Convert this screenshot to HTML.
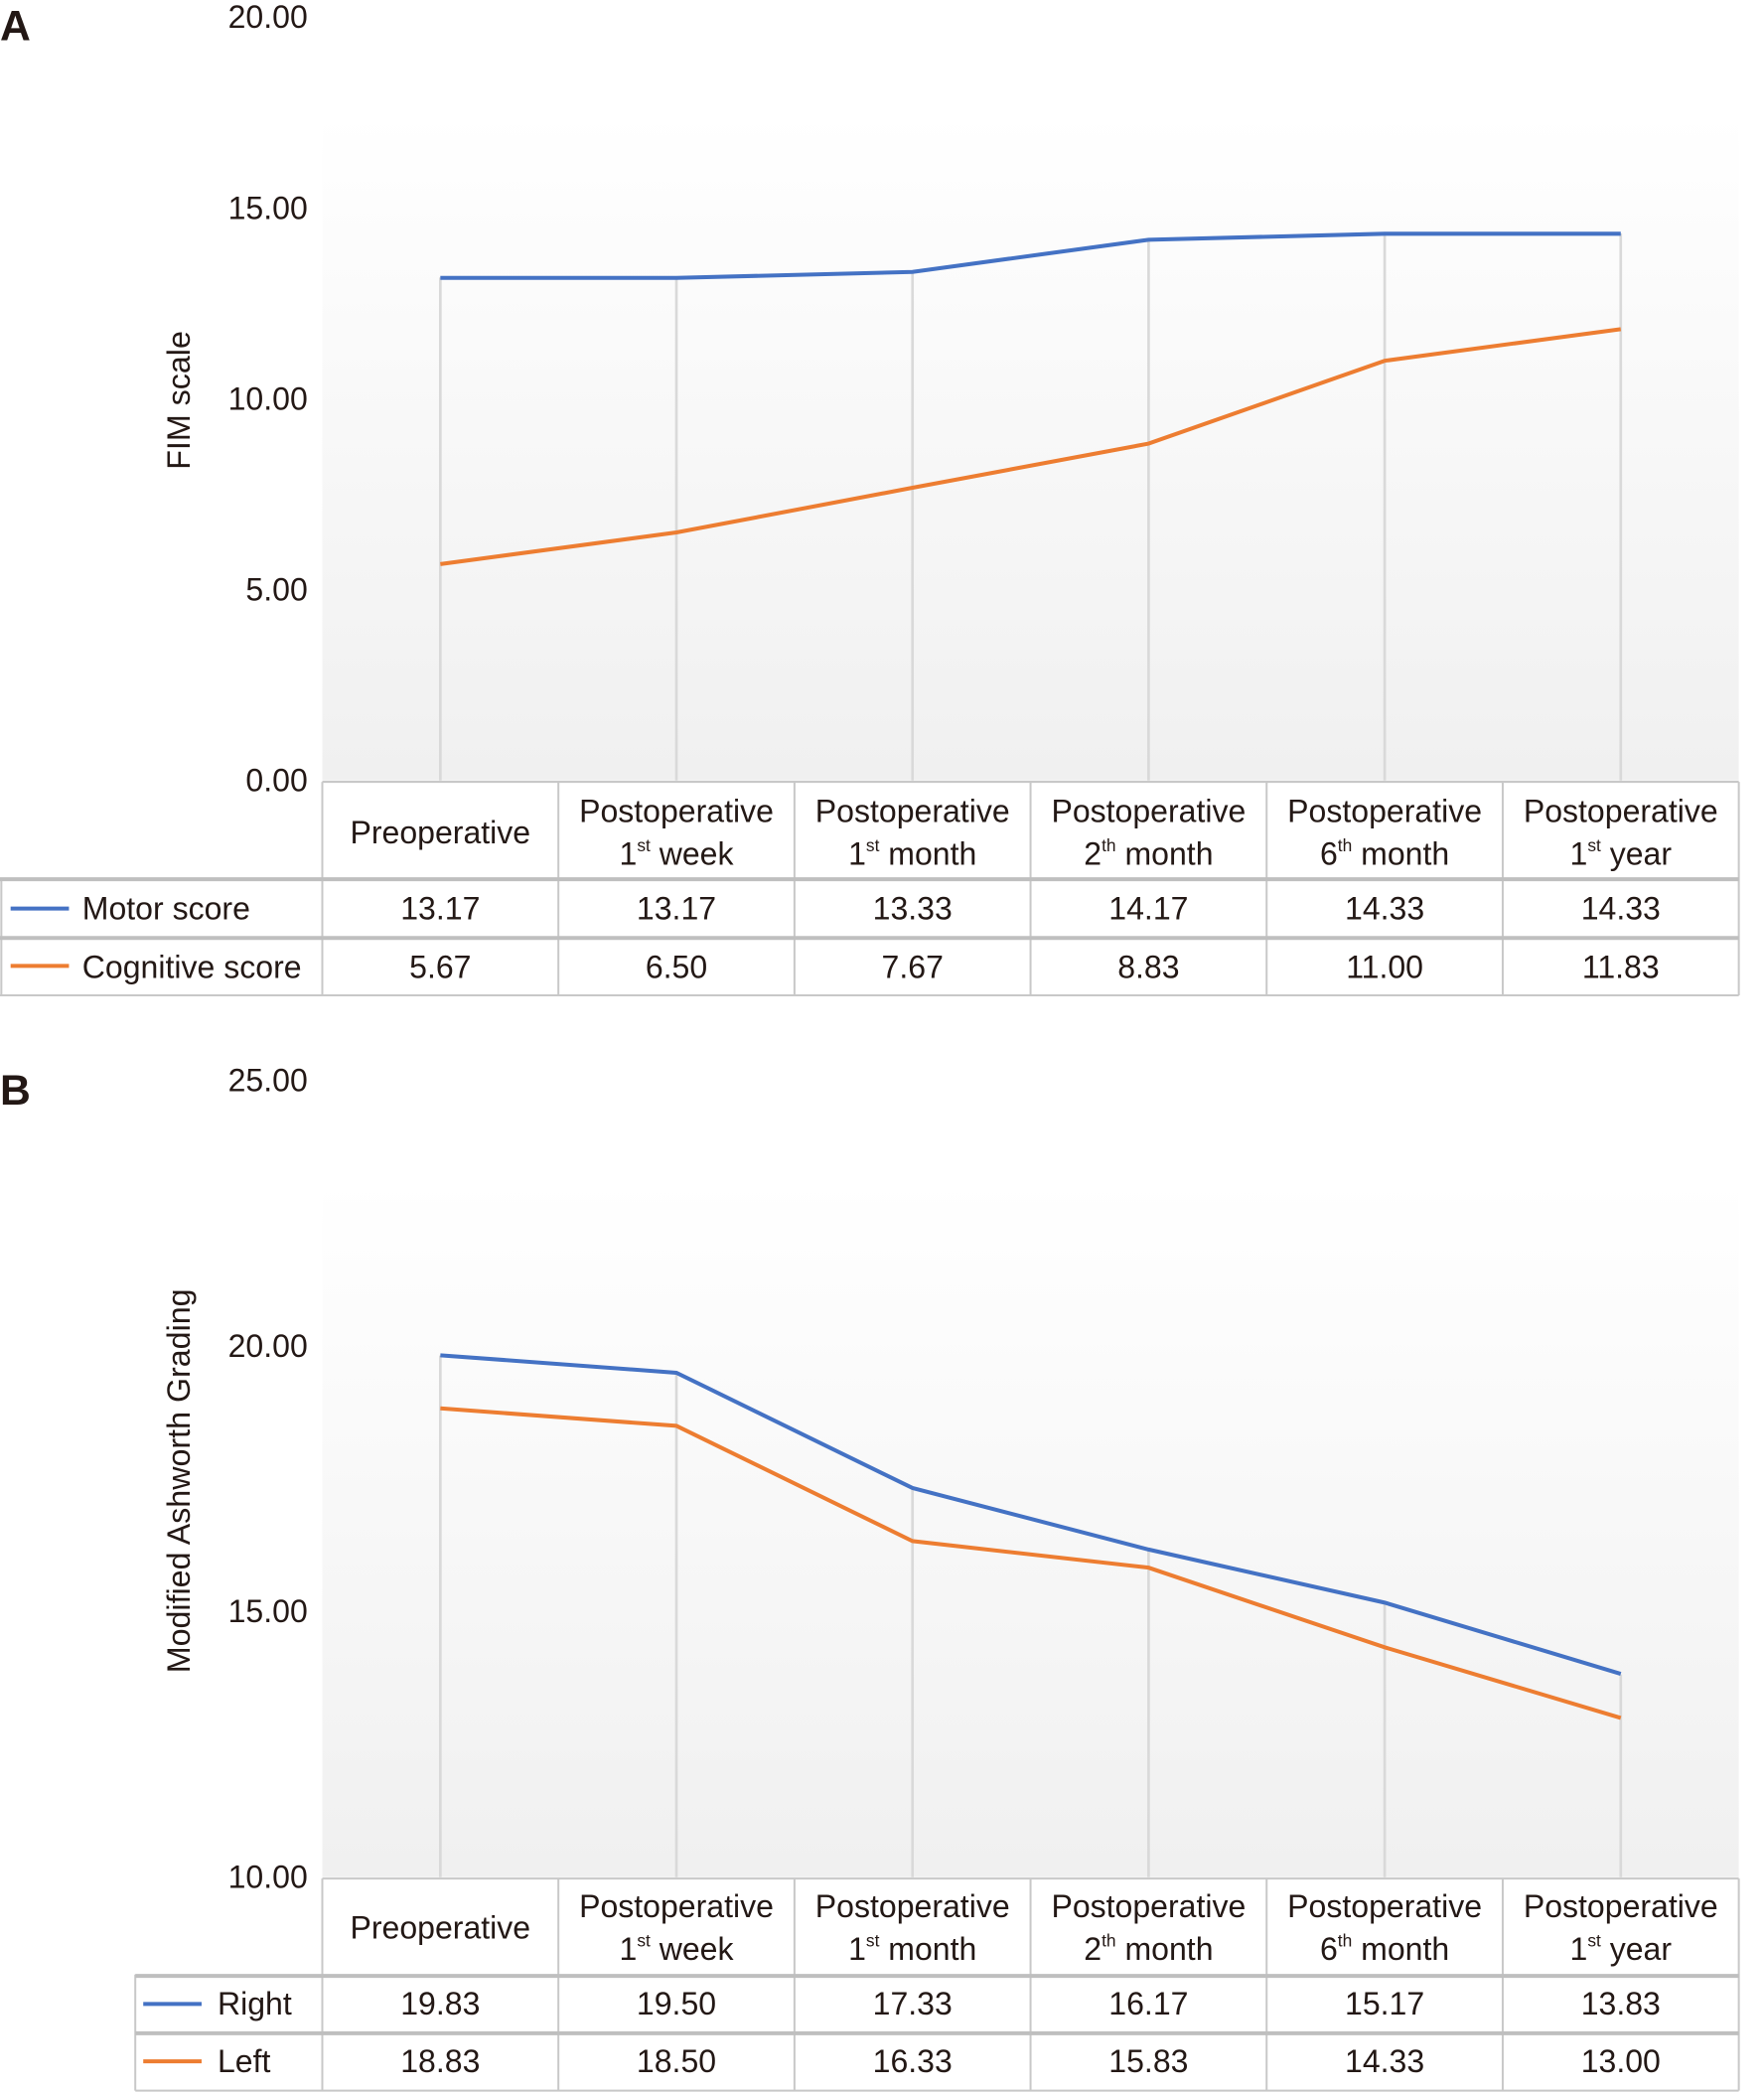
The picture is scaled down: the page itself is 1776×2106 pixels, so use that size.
<!DOCTYPE html>
<html><head><meta charset="utf-8"><style>
html,body{margin:0;padding:0;background:#fff}
svg{display:block}
text{font-family:"Liberation Sans","DejaVu Sans",sans-serif;fill:#231815}
</style></head><body>
<svg width="1776" height="2106" viewBox="0 0 1330 1568" preserveAspectRatio="none" xmlns="http://www.w3.org/2000/svg">
<defs>
<linearGradient id="g" x1="0" y1="0" x2="0" y2="1">
<stop offset="0" stop-color="#ffffff"/><stop offset="1" stop-color="#f0f0f0"/>
</linearGradient>
</defs>
<!-- ===== Chart A ===== -->
<text x="0" y="30" font-size="32" font-weight="bold">A</text>
<rect x="243" y="85" width="1068" height="500" fill="url(#g)"/>
<g font-size="24" text-anchor="end">
<text x="232" y="21">20.00</text><text x="232" y="164">15.00</text><text x="232" y="307">10.00</text><text x="232" y="450">5.00</text><text x="232" y="593">0.00</text>
</g>
<text transform="translate(143,300) rotate(-90)" font-size="24" text-anchor="middle">FIM scale</text>
<g stroke="#d9d9d9" stroke-width="2">
<line x1="332" y1="208" x2="332" y2="585"/><line x1="510" y1="208" x2="510" y2="585"/><line x1="688" y1="204" x2="688" y2="585"/><line x1="866" y1="180" x2="866" y2="585"/><line x1="1044" y1="175" x2="1044" y2="585"/><line x1="1222" y1="175" x2="1222" y2="585"/>
</g>
<polyline fill="none" stroke="#4472c4" stroke-width="3" points="332,208.3 510,208.3 688,203.8 866,179.7 1044,175.2 1222,175.2"/>
<polyline fill="none" stroke="#ed7d31" stroke-width="3" points="332,422.8 510,399.1 688,365.6 866,332.5 1044,270.4 1222,246.7"/>
<!-- table A -->
<g stroke="#c8c8c8" stroke-width="1.5" fill="none">
<line x1="243" y1="586" x2="1311" y2="586"/>
<line x1="0" y1="746" x2="1311" y2="746"/>
<line x1="1" y1="658" x2="1" y2="746"/>
<line x1="243" y1="586" x2="243" y2="746"/><line x1="421" y1="586" x2="421" y2="746"/><line x1="599" y1="586" x2="599" y2="746"/><line x1="777" y1="586" x2="777" y2="746"/><line x1="955" y1="586" x2="955" y2="746"/><line x1="1133" y1="586" x2="1133" y2="746"/><line x1="1311" y1="586" x2="1311" y2="746"/>
</g>
<g stroke="#bfbfbf" stroke-width="3"><line x1="0" y1="659" x2="1311" y2="659"/><line x1="0" y1="703" x2="1311" y2="703"/></g>
<line x1="8" y1="681" x2="52" y2="681" stroke="#4472c4" stroke-width="3"/>
<line x1="8" y1="724" x2="52" y2="724" stroke="#ed7d31" stroke-width="3"/>
<g font-size="24">
<text x="62" y="689">Motor score</text><text x="62" y="733">Cognitive score</text>
</g>
<g font-size="24" text-anchor="middle">
<text x="332" y="632">Preoperative</text>
<text x="510" y="616">Postoperative</text><text x="510" y="648">1<tspan font-size="13" dy="-10">st</tspan><tspan dy="10"> week</tspan></text>
<text x="688" y="616">Postoperative</text><text x="688" y="648">1<tspan font-size="13" dy="-10">st</tspan><tspan dy="10"> month</tspan></text>
<text x="866" y="616">Postoperative</text><text x="866" y="648">2<tspan font-size="13" dy="-10">th</tspan><tspan dy="10"> month</tspan></text>
<text x="1044" y="616">Postoperative</text><text x="1044" y="648">6<tspan font-size="13" dy="-10">th</tspan><tspan dy="10"> month</tspan></text>
<text x="1222" y="616">Postoperative</text><text x="1222" y="648">1<tspan font-size="13" dy="-10">st</tspan><tspan dy="10"> year</tspan></text>
<text x="332" y="689">13.17</text><text x="510" y="689">13.17</text><text x="688" y="689">13.33</text><text x="866" y="689">14.17</text><text x="1044" y="689">14.33</text><text x="1222" y="689">14.33</text>
<text x="332" y="733">5.67</text><text x="510" y="733">6.50</text><text x="688" y="733">7.67</text><text x="866" y="733">8.83</text><text x="1044" y="733">11.00</text><text x="1222" y="733">11.83</text>
</g>
<!-- ===== Chart B ===== -->
<text x="0" y="828" font-size="32" font-weight="bold">B</text>
<rect x="243" y="885" width="1068" height="522" fill="url(#g)"/>
<g font-size="24" text-anchor="end">
<text x="232" y="818">25.00</text><text x="232" y="1017">20.00</text><text x="232" y="1216">15.00</text><text x="232" y="1415">10.00</text>
</g>
<text transform="translate(143,1110) rotate(-90)" font-size="24" text-anchor="middle">Modified Ashworth Grading</text>
<g stroke="#d9d9d9" stroke-width="2">
<line x1="332" y1="1016" x2="332" y2="1407"/><line x1="510" y1="1029" x2="510" y2="1407"/><line x1="688" y1="1115" x2="688" y2="1407"/><line x1="866" y1="1161" x2="866" y2="1407"/><line x1="1044" y1="1201" x2="1044" y2="1407"/><line x1="1222" y1="1255" x2="1222" y2="1407"/>
</g>
<polyline fill="none" stroke="#4472c4" stroke-width="3" points="332,1015.8 510,1028.9 688,1115.3 866,1161.4 1044,1201.2 1222,1254.6"/>
<polyline fill="none" stroke="#ed7d31" stroke-width="3" points="332,1055.6 510,1068.7 688,1155.1 866,1175 1044,1234.7 1222,1287.6"/>
<g stroke="#c8c8c8" stroke-width="1.5" fill="none">
<line x1="243" y1="1408" x2="1311" y2="1408"/>
<line x1="102" y1="1567" x2="1311" y2="1567"/>
<line x1="102" y1="1480" x2="102" y2="1567"/>
<line x1="243" y1="1408" x2="243" y2="1567"/><line x1="421" y1="1408" x2="421" y2="1567"/><line x1="599" y1="1408" x2="599" y2="1567"/><line x1="777" y1="1408" x2="777" y2="1567"/><line x1="955" y1="1408" x2="955" y2="1567"/><line x1="1133" y1="1408" x2="1133" y2="1567"/><line x1="1311" y1="1408" x2="1311" y2="1567"/>
</g>
<g stroke="#bfbfbf" stroke-width="3"><line x1="102" y1="1481" x2="1311" y2="1481"/><line x1="102" y1="1524" x2="1311" y2="1524"/></g>
<line x1="108" y1="1502" x2="152" y2="1502" stroke="#4472c4" stroke-width="3"/>
<line x1="108" y1="1545" x2="152" y2="1545" stroke="#ed7d31" stroke-width="3"/>
<g font-size="24">
<text x="164" y="1510">Right</text><text x="164" y="1553">Left</text>
</g>
<g font-size="24" text-anchor="middle">
<text x="332" y="1453">Preoperative</text>
<text x="510" y="1437">Postoperative</text><text x="510" y="1469">1<tspan font-size="13" dy="-10">st</tspan><tspan dy="10"> week</tspan></text>
<text x="688" y="1437">Postoperative</text><text x="688" y="1469">1<tspan font-size="13" dy="-10">st</tspan><tspan dy="10"> month</tspan></text>
<text x="866" y="1437">Postoperative</text><text x="866" y="1469">2<tspan font-size="13" dy="-10">th</tspan><tspan dy="10"> month</tspan></text>
<text x="1044" y="1437">Postoperative</text><text x="1044" y="1469">6<tspan font-size="13" dy="-10">th</tspan><tspan dy="10"> month</tspan></text>
<text x="1222" y="1437">Postoperative</text><text x="1222" y="1469">1<tspan font-size="13" dy="-10">st</tspan><tspan dy="10"> year</tspan></text>
<text x="332" y="1510">19.83</text><text x="510" y="1510">19.50</text><text x="688" y="1510">17.33</text><text x="866" y="1510">16.17</text><text x="1044" y="1510">15.17</text><text x="1222" y="1510">13.83</text>
<text x="332" y="1553">18.83</text><text x="510" y="1553">18.50</text><text x="688" y="1553">16.33</text><text x="866" y="1553">15.83</text><text x="1044" y="1553">14.33</text><text x="1222" y="1553">13.00</text>
</g>
</svg>
</body></html>
